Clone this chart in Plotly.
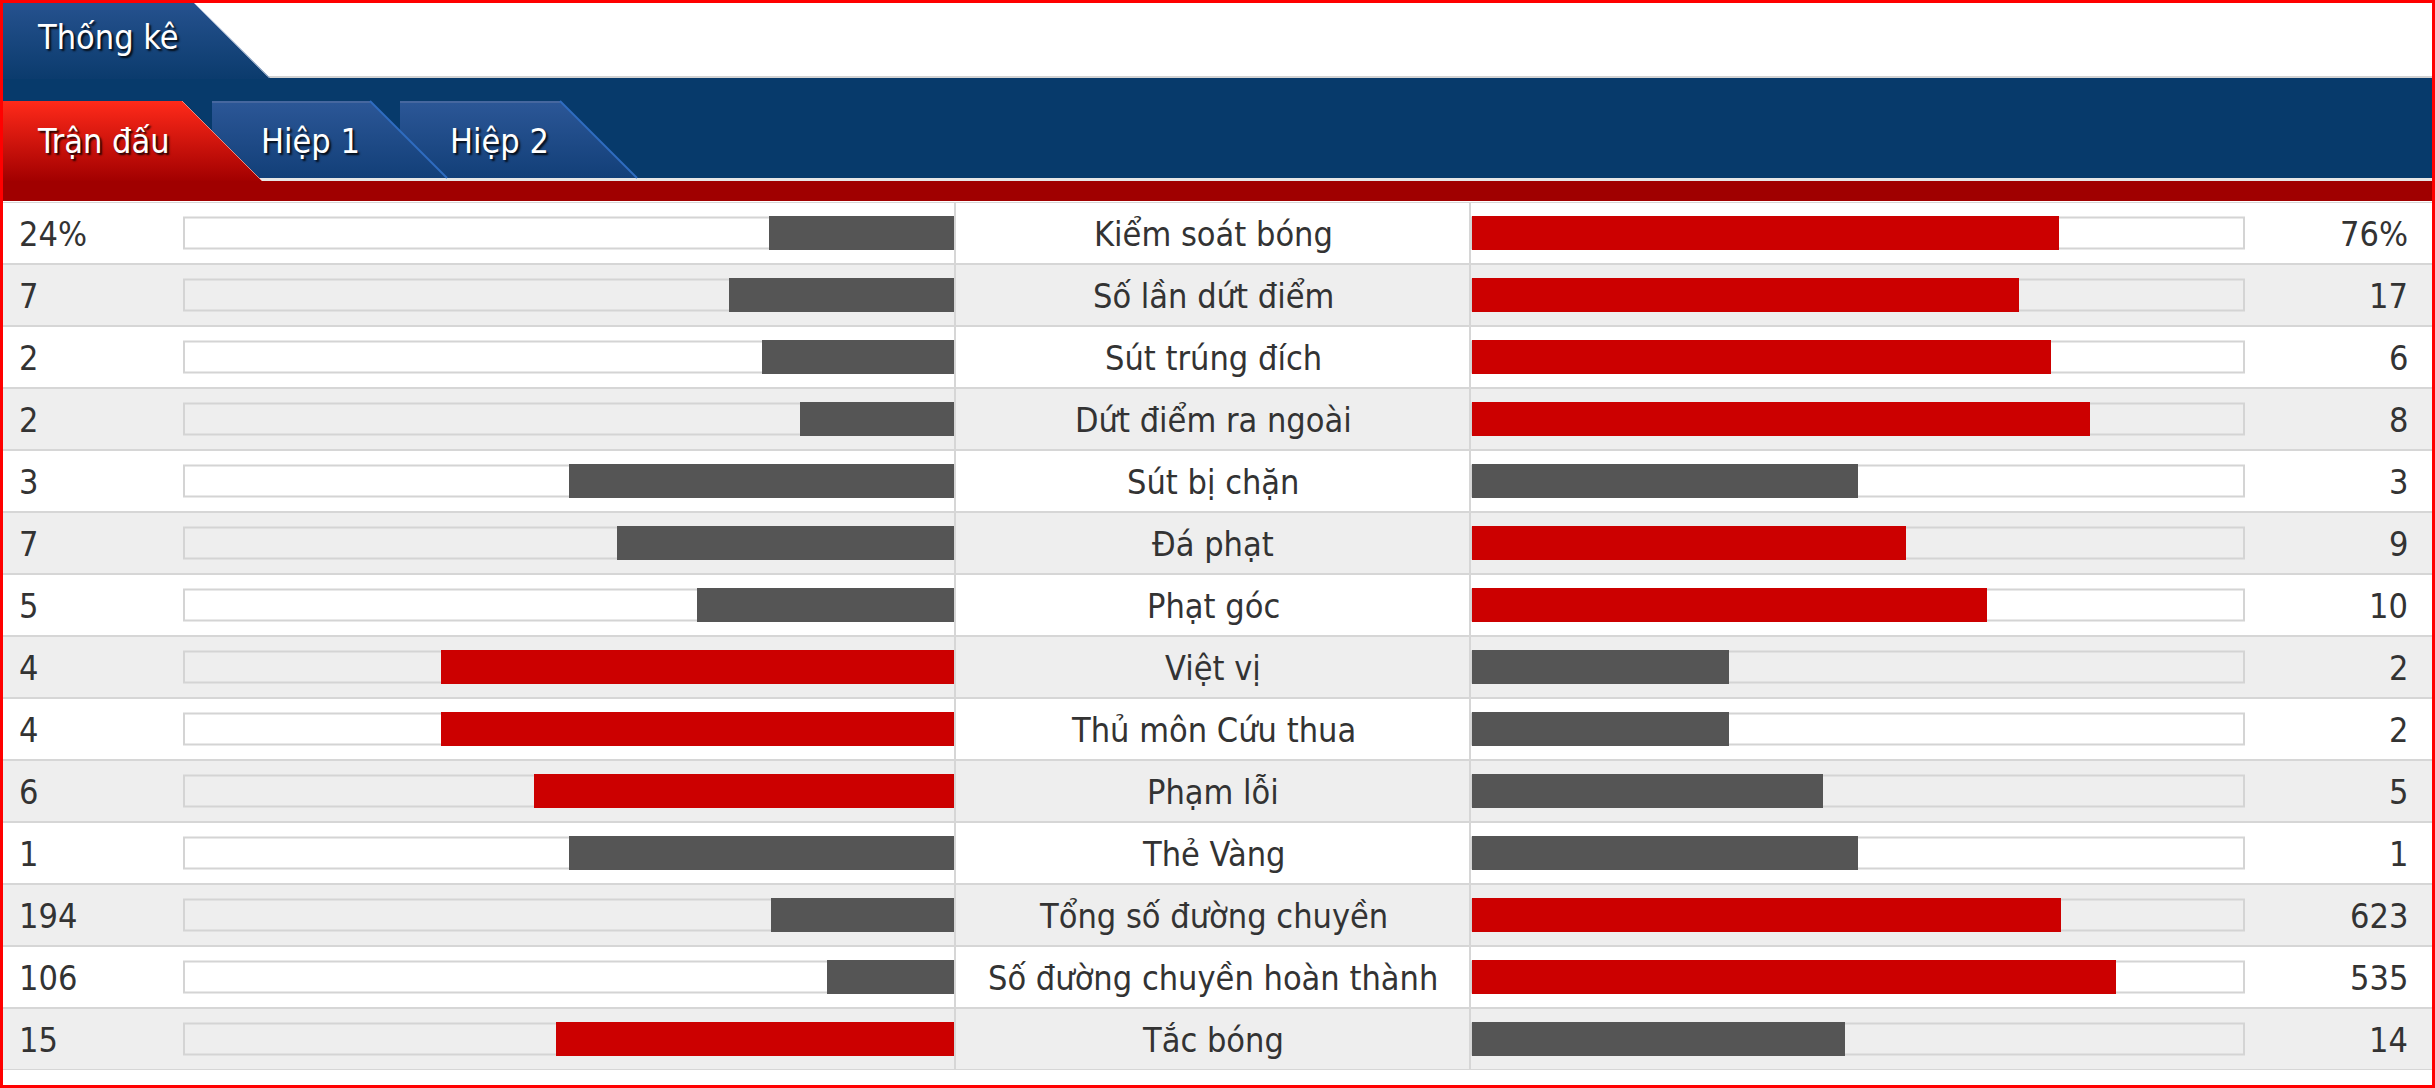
import plotly.graph_objects as go

W, H = 2435, 1088

# ---------------- data ----------------
categories = [
    "Kiểm soát bóng", "Số lần dứt điểm", "Sút trúng đích", "Dứt điểm ra ngoài",
    "Sút bị chặn", "Đá phạt", "Phạt góc", "Việt vị", "Thủ môn Cứu thua",
    "Phạm lỗi", "Thẻ Vàng", "Tổng số đường chuyền",
    "Số đường chuyền hoàn thành", "Tắc bóng",
]
home_values = [24, 7, 2, 2, 3, 7, 5, 4, 4, 6, 1, 194, 106, 15]
away_values = [76, 17, 6, 8, 3, 9, 10, 2, 2, 5, 1, 623, 535, 14]
home_labels = ["24%", "7", "2", "2", "3", "7", "5", "4", "4", "6", "1", "194", "106", "15"]
away_labels = ["76%", "17", "6", "8", "3", "9", "10", "2", "2", "5", "1", "623", "535", "14"]
title_text = "Thống kê"
tab_labels = ["Trận đấu", "Hiệp 1", "Hiệp 2"]

# ---------------- style ----------------
RED = "#cc0000"
GREY = "#555555"
ROW_BG = ["#ffffff", "#eeeeee"]
SEP = "#d6d6d6"
TXT = "#333333"
FONT = "DejaVu Sans Condensed, Liberation Sans, sans-serif"
FS = 34

n = len(categories)
row_bg = [ROW_BG[i % 2] for i in range(n)]
home_frac = [h / (h + a) for h, a in zip(home_values, away_values)]
away_frac = [a / (h + a) for h, a in zip(home_values, away_values)]
home_col = [RED if h > a else GREY for h, a in zip(home_values, away_values)]
away_col = [RED if a > h else GREY for h, a in zip(home_values, away_values)]


def px(x):
    return x / W


def py(y):
    return 1 - y / H


ROWS_TOP, ROWS_BOT = 202, 1070
L0, L1 = 184, 954      # left track (value 1 at L0, 0 at L1)
R0, R1 = 1472, 2244    # right track
lw = L1 - L0
rw = R1 - R0

fig = go.Figure()

# ---- track + value bars ----
fig.add_trace(go.Bar(x=[1] * n, y=categories, orientation="h", xaxis="x", yaxis="y",
                     width=0.5, hoverinfo="skip",
                     marker=dict(color=row_bg, line=dict(color="#d4d4d4", width=2))))
fig.add_trace(go.Bar(x=home_frac, y=categories, orientation="h", xaxis="x", yaxis="y",
                     width=34 / 62, hoverinfo="skip",
                     marker=dict(color=home_col, line=dict(width=0))))
fig.add_trace(go.Bar(x=[1] * n, y=categories, orientation="h", xaxis="x2", yaxis="y",
                     width=0.5, hoverinfo="skip",
                     marker=dict(color=row_bg, line=dict(color="#d4d4d4", width=2))))
fig.add_trace(go.Bar(x=away_frac, y=categories, orientation="h", xaxis="x2", yaxis="y",
                     width=34 / 62, hoverinfo="skip",
                     marker=dict(color=away_col, line=dict(width=0))))

# ---- header polygons (decorative) on a full-page pixel axis ----
def poly(pts, top_col, bot_col, y_top, y_bot):
    xs = [p[0] for p in pts] + [pts[0][0]]
    ys = [p[1] for p in pts] + [pts[0][1]]
    fig.add_trace(go.Scatter(
        x=xs, y=ys, xaxis="x3", yaxis="y3", mode="lines", fill="toself",
        line=dict(width=0, color=bot_col), hoverinfo="skip",
        fillgradient=dict(type="vertical", start=y_top, stop=y_bot,
                          colorscale=[[0, top_col], [1, bot_col]]),
    ))


def seg(pts, col, width):
    fig.add_trace(go.Scatter(x=[p[0] for p in pts], y=[p[1] for p in pts],
                             xaxis="x3", yaxis="y3", mode="lines", hoverinfo="skip",
                             line=dict(color=col, width=width)))


poly([(2, 2), (193, 2), (270, 79), (2, 79)], "#26528f", "#0b3b6d", 2, 79)
poly([(400, 101), (560, 101), (637, 178), (400, 178)], "#2c5797", "#123f78", 101, 178)
seg([(400, 102), (560, 102)], "#46679f", 2)
seg([(560, 101), (637, 178)], "#2f6cc0", 2)
poly([(212, 101), (370, 101), (447, 178), (212, 178)], "#2c5797", "#123f78", 101, 178)
seg([(212, 102), (370, 102)], "#46679f", 2)
seg([(370, 101), (447, 178)], "#2f6cc0", 2)
poly([(2, 101), (182, 101), (262, 181), (2, 181)], "#ff2a1a", "#a20000", 101, 181)
seg([(193, 2), (270, 78)], "#8fa6c8", 1)
seg([(182, 101), (262, 181)], "#e88a80", 1)

# ---- shapes ----
shapes = []
shapes.append(dict(type="rect", xref="paper", yref="paper", layer="below",
                   x0=px(2), x1=px(2432), y0=py(76), y1=py(78),
                   fillcolor="#d2d2d2", line=dict(width=0)))
shapes.append(dict(type="rect", xref="paper", yref="paper", layer="below",
                   x0=px(2), x1=px(2432), y0=py(78), y1=py(178),
                   fillcolor="#073a6b", line=dict(width=0)))
shapes.append(dict(type="rect", xref="paper", yref="paper", layer="below",
                   x0=px(2), x1=px(2432), y0=py(178), y1=py(181),
                   fillcolor="#e6e6e6", line=dict(width=0)))
shapes.append(dict(type="rect", xref="paper", yref="paper", layer="below",
                   x0=px(2), x1=px(2432), y0=py(181), y1=py(201),
                   fillcolor="#a00000", line=dict(width=0)))
for i in range(n):
    shapes.append(dict(type="rect", xref="paper", yref="y", layer="below",
                       x0=px(2), x1=px(2432), y0=i - 0.5, y1=i + 0.5,
                       fillcolor=row_bg[i], line=dict(width=0)))
for i in range(n + 1):
    shapes.append(dict(type="line", xref="paper", yref="y", layer="below",
                       x0=px(2), x1=px(2432), y0=i - 0.5, y1=i - 0.5,
                       line=dict(color=SEP, width=2)))
for xv in (955, 1470):
    shapes.append(dict(type="line", xref="paper", yref="y", layer="below",
                       x0=px(xv), x1=px(xv), y0=-0.5, y1=n - 0.5,
                       line=dict(color=SEP, width=2)))
shapes.append(dict(type="rect", xref="paper", yref="paper", layer="above",
                   x0=px(1.5), x1=px(2433.5), y0=py(1.5), y1=py(1086.5),
                   line=dict(color="#ff0000", width=3), fillcolor="rgba(0,0,0,0)"))

# ---- annotations ----
ann = []
shadow = "2px 2px 2px rgba(0,0,0,0.85)"
ann.append(dict(text=title_text, xref="paper", yref="paper", x=px(35), y=py(37.5),
                xanchor="left", yanchor="middle", showarrow=False,
                font=dict(family=FONT, size=FS, color="white", shadow=shadow)))
tab_x = [(35, "left"), (310, "center"), (499, "center")]
for t, (xx, anc) in zip(tab_labels, tab_x):
    ann.append(dict(text=t, xref="paper", yref="paper", x=px(xx), y=py(140.5),
                    xanchor=anc, yanchor="middle", showarrow=False,
                    font=dict(family=FONT, size=FS, color="white", shadow=shadow)))
for i in range(n):
    ann.append(dict(text=home_labels[i], xref="paper", yref="y", x=px(17), y=categories[i],
                    xanchor="left", yanchor="middle", showarrow=False, yshift=-1,
                    font=dict(family=FONT, size=FS, color=TXT)))
    ann.append(dict(text=categories[i], xref="paper", yref="y", x=px(1213), y=categories[i],
                    xanchor="center", yanchor="middle", showarrow=False, yshift=-1,
                    font=dict(family=FONT, size=FS, color=TXT)))
    ann.append(dict(text=away_labels[i], xref="paper", yref="y", x=px(2410), y=categories[i],
                    xanchor="right", yanchor="middle", showarrow=False, yshift=-1,
                    font=dict(family=FONT, size=FS, color=TXT)))

fig.update_layout(
    width=W, height=H, margin=dict(l=0, r=0, t=0, b=0, pad=0),
    paper_bgcolor="white", plot_bgcolor="rgba(0,0,0,0)",
    barmode="overlay", showlegend=False, bargap=0,
    shapes=shapes, annotations=ann,
    xaxis=dict(domain=[px(L0 - 2), px(L1 + 2)], range=[1 + 2 / lw, -2 / lw],
               visible=False, fixedrange=True, anchor="y"),
    xaxis2=dict(domain=[px(R0 - 2), px(R1 + 2)], range=[-2 / rw, 1 + 2 / rw],
                visible=False, fixedrange=True, anchor="y"),
    yaxis=dict(domain=[py(ROWS_BOT), py(ROWS_TOP)], range=[n - 0.5, -0.5],
               type="category", categoryorder="array", categoryarray=categories,
               visible=False, fixedrange=True, anchor="x"),
    xaxis3=dict(domain=[0, 1], range=[0, W], visible=False, fixedrange=True, anchor="y3"),
    yaxis3=dict(domain=[0, 1], range=[H, 0], visible=False, fixedrange=True, anchor="x3"),
)

fig.write_html("out.html", config={"displayModeBar": False, "staticPlot": True},
               post_script="document.body.style.margin='0';document.body.style.overflow='hidden';")
